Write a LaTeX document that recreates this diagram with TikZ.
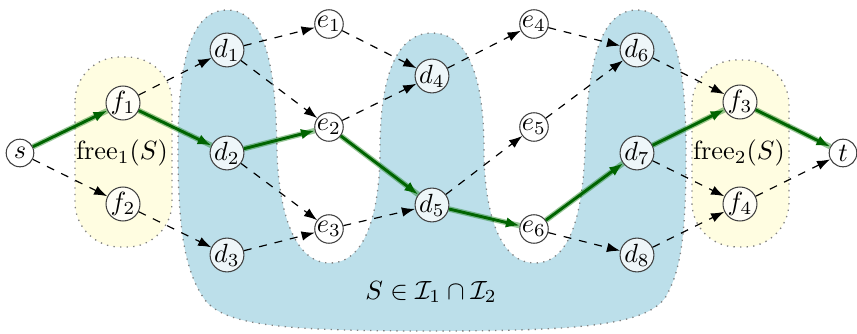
\documentclass[tikz,border=0pt]{standalone}
\usetikzlibrary{arrows.meta}
\definecolor{regblue}{RGB}{188,223,234}
\definecolor{regyellow}{RGB}{255,253,225}
\definecolor{pathgreen}{RGB}{0,100,0}
\begin{document}
\begin{tikzpicture}[x=0.38pt,y=-0.38pt,
 vtx/.style={circle,draw=black!75,line width=0.4pt,fill=white,fill opacity=0.75,text opacity=1,minimum size=10.5pt,inner sep=0pt},
 dedge/.style={dashed,-{Latex[length=5pt,width=3.6pt]},black,line width=0.45pt},
 gedge/.style={-{Latex[length=5.2pt,width=4pt]},pathgreen,line width=1.1pt,preaction={draw,-,green!45!black,opacity=0.4,line width=2.1pt}},
 region/.style={draw=gray,dotted,line width=0.5pt}]
\useasboundingbox (0,0) rectangle (857,333);
% yellow regions
\path[region,fill=regyellow,rounded corners=17pt] (75,57) rectangle (172,247);
\path[region,fill=regyellow,rounded corners=17pt] (692,60) rectangle (789,247);
% blue region
\path[region,fill=regblue]
 (178,150)
 .. controls (178,80) and (185,10) .. (227,10)
 .. controls (269,10) and (276,80) .. (277,150)
 .. controls (278,200) and (290,263) .. (330,263)
 .. controls (370,263) and (380,200) .. (380,150)
 .. controls (380,80) and (395,33) .. (432,33)
 .. controls (469,33) and (484,80) .. (484,150)
 .. controls (484,200) and (495,263) .. (535,263)
 .. controls (575,263) and (583,200) .. (585,150)
 .. controls (587,80) and (595,10) .. (637,10)
 .. controls (679,10) and (686,80) .. (686,150)
 .. controls (686,230) and (682,270) .. (665,298)
 .. controls (645,325) and (580,331) .. (432,331)
 .. controls (280,331) and (225,325) .. (205,300)
 .. controls (185,272) and (178,230) .. (178,150)
 -- cycle;
% labels
\node (free1) at (122,153) {$\mathrm{free}_1(S)$};
\node (free2) at (739,153) {$\mathrm{free}_2(S)$};
\node (SI) at (431,292) {$S\in\mathcal{I}_1\cap\mathcal{I}_2$};
% vertices
\node[vtx] (s) at (20,153) {$s$};
\node[vtx] (f1) at (123,103) {$f_1$};
\node[vtx] (f2) at (123,204) {$f_2$};
\node[vtx] (d1) at (227,50) {$d_1$};
\node[vtx] (d2) at (227,153) {$d_2$};
\node[vtx] (d3) at (227,255) {$d_3$};
\node[vtx] (e1) at (329,24) {$e_1$};
\node[vtx] (e2) at (329,127) {$e_2$};
\node[vtx] (e3) at (329,229) {$e_3$};
\node[vtx] (d4) at (432,76) {$d_4$};
\node[vtx] (d5) at (432,205) {$d_5$};
\node[vtx] (e4) at (534,24) {$e_4$};
\node[vtx] (e5) at (534,127) {$e_5$};
\node[vtx] (e6) at (534,229) {$e_6$};
\node[vtx] (d6) at (637,50) {$d_6$};
\node[vtx] (d7) at (637,153) {$d_7$};
\node[vtx] (d8) at (637,255) {$d_8$};
\node[vtx] (f3) at (740,102) {$f_3$};
\node[vtx] (f4) at (740,204) {$f_4$};
\node[vtx] (t) at (843,153) {$t$};
% dashed edges
\draw[dedge] (s) -- (f2);
\draw[dedge] (f1) -- (d1);
\draw[dedge] (f2) -- (d3);
\draw[dedge] (d1) -- (e1);
\draw[dedge] (d1) -- (e2);
\draw[dedge] (d2) -- (e3);
\draw[dedge] (d3) -- (e3);
\draw[dedge] (e1) -- (d4);
\draw[dedge] (e2) -- (d4);
\draw[dedge] (e3) -- (d5);
\draw[dedge] (d4) -- (e4);
\draw[dedge] (d5) -- (e5);
\draw[dedge] (e4) -- (d6);
\draw[dedge] (e5) -- (d6);
\draw[dedge] (e6) -- (d8);
\draw[dedge] (d6) -- (f3);
\draw[dedge] (d7) -- (f4);
\draw[dedge] (d8) -- (f4);
\draw[dedge] (f4) -- (t);
% green path
\draw[gedge] (s) -- (f1);
\draw[gedge] (f1) -- (d2);
\draw[gedge] (d2) -- (e2);
\draw[gedge] (e2) -- (d5);
\draw[gedge] (d5) -- (e6);
\draw[gedge] (e6) -- (d7);
\draw[gedge] (d7) -- (f3);
\draw[gedge] (f3) -- (t);
\end{tikzpicture}
\end{document}
